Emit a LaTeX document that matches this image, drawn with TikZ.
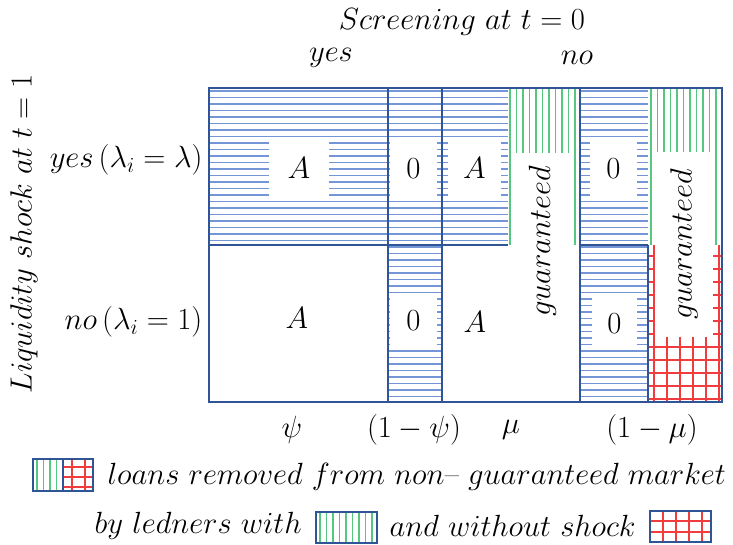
\RequirePackage{fix-cm}
\documentclass[tikz,border=0pt]{standalone}
\definecolor{frameblue}{HTML}{2F5597}
\definecolor{stripeblue}{HTML}{7496D6}
\definecolor{stripegreen}{HTML}{55C77E}
\definecolor{gridred}{HTML}{F03C3C}
\tikzset{
  frame/.style={draw=frameblue, line width=1.5pt},
  bstripe/.style={draw=stripeblue, line width=1.2pt},
  gstripe/.style={draw=stripegreen, line width=1.3pt},
  rgrid/.style={draw=gridred, line width=1pt},
  valbox/.style={fill=white, inner sep=0pt},
  lbl/.style={font=\fontsize{23}{27}\selectfont, inner sep=1pt},
  keybox/.style={draw=frameblue, line width=1.2pt, inner sep=0pt}
}
\begin{document}
\begin{tikzpicture}[x=0.75pt,y=-0.75pt]
\useasboundingbox (0,0) rectangle (733,544);
% blue stripes: screened loans
\foreach \y in {91,97.5,...,243} \draw[bstripe] (209,\y) -- (388,\y);
\foreach \y in {91,97.5,...,400} \draw[bstripe] (388,\y) -- (442,\y);
\foreach \y in {91,97.5,...,243} \draw[bstripe] (442,\y) -- (508,\y);
\foreach \y in {91,97.5,...,400} \draw[bstripe] (580,\y) -- (648,\y);
% green and red: removed loans
\foreach \x in {510,516.5,...,579} \draw[gstripe] (\x,88) -- (\x,245);
\foreach \x in {651,657.5,...,721} \draw[gstripe] (\x,88) -- (\x,245);
\foreach \x in {654,667,...,721} \draw[rgrid] (\x,245) -- (\x,402);
\foreach \y in {256,269,...,401} \draw[rgrid] (648,\y) -- (722,\y);
% frame
\draw[frame] (209,88) rectangle (722,402);
\draw[frame] (388,88) -- (388,402);
\draw[frame] (442,88) -- (442,402);
\draw[frame] (580,88) -- (580,402);
\draw[frame] (648,245) -- (648,402);
\draw[frame] (209,245) -- (508,245);
\draw[frame] (580,245) -- (648,245);
% cell values
\node[valbox, lbl, minimum width=45pt, minimum height=41pt] (aYesL) at (299,168.5) {$A$};
\node[valbox, lbl, minimum width=35pt, minimum height=41pt] (zYesL) at (413.5,168.5) {$0$};
\node[valbox, lbl, minimum width=40pt, minimum height=41pt] (aYesR) at (474.5,168.5) {$A$};
\node[valbox, lbl, minimum width=35pt, minimum height=41pt] (zYesR) at (613.5,168.5) {$0$};
\node[lbl] (aNoL) at (297,318) {$A$};
\node[valbox, lbl, minimum width=35pt, minimum height=39pt] (zNoL) at (413.5,321) {$0$};
\node[lbl] (aNoR) at (475,322) {$A$};
\node[valbox, lbl, minimum width=34pt, minimum height=40pt] (zNoR) at (614.5,323.5) {$0$};
\node[valbox, lbl, rotate=90, minimum width=133pt, minimum height=41pt] (guarL) at (542.5,241.5) {$guaranteed$};
\node[valbox, lbl, rotate=90, minimum width=139pt, minimum height=43pt] (guarR) at (684,244.5) {$guaranteed$};
% headings
\node[lbl] (screen) at (462,22) {$Screening\ at\ t=0$};
\node[lbl] (colYes) at (331,58) {$yes$};
\node[lbl] (colNo) at (577,58) {$no$};
\node[lbl, rotate=90] (shock) at (24,234) {$Liquidity\ shock\ at\ t=1$};
\node[lbl, anchor=east] (rowYes) at (204,160) {$yes\,(\lambda_i=\lambda)$};
\node[lbl, anchor=east] (rowNo) at (204,322) {$no\,(\lambda_i=1)$};
\node[lbl] (psi) at (292,430) {$\psi$};
\node[lbl] (psiRest) at (414,430) {$(1-\psi)$};
\node[lbl] (mu) at (511,430) {$\mu$};
\node[lbl] (muRest) at (652,430) {$(1-\mu)$};
% legend
\foreach \x in {37,43.5,...,61} \draw[gstripe] (\x,459) -- (\x,491);
\foreach \x in {72,85} \draw[rgrid] (\x,459) -- (\x,491);
\foreach \y in {467,477,487} \draw[rgrid] (63,\y) -- (93,\y);
\node[keybox, minimum width=22.5pt, minimum height=24pt] (keyG) at (48,475) {};
\node[keybox, minimum width=22.5pt, minimum height=24pt] (keyR) at (78,475) {};
\node[lbl, anchor=west] (legOne) at (106,477) {$loans\ removed\ from\ non$\textendash\ $guaranteed\ market$};
\node[lbl, anchor=west] (legTwo) at (93,526) {$by\ ledners\ with$};
\foreach \x in {320,326.5,...,375} \draw[gstripe] (\x,512) -- (\x,543);
\node[keybox, minimum width=45.75pt, minimum height=23.25pt] (keyWith) at (346.5,527.5) {};
\node[lbl, anchor=west] (legThree) at (388,526) {$and\ without\ shock$};
\foreach \x in {663,676,689,702} \draw[rgrid] (\x,511) -- (\x,542);
\foreach \y in {521,532} \draw[rgrid] (650,\y) -- (711,\y);
\node[keybox, minimum width=45.75pt, minimum height=23.25pt] (keyWithout) at (680.5,526.5) {};
\end{tikzpicture}
\end{document}
